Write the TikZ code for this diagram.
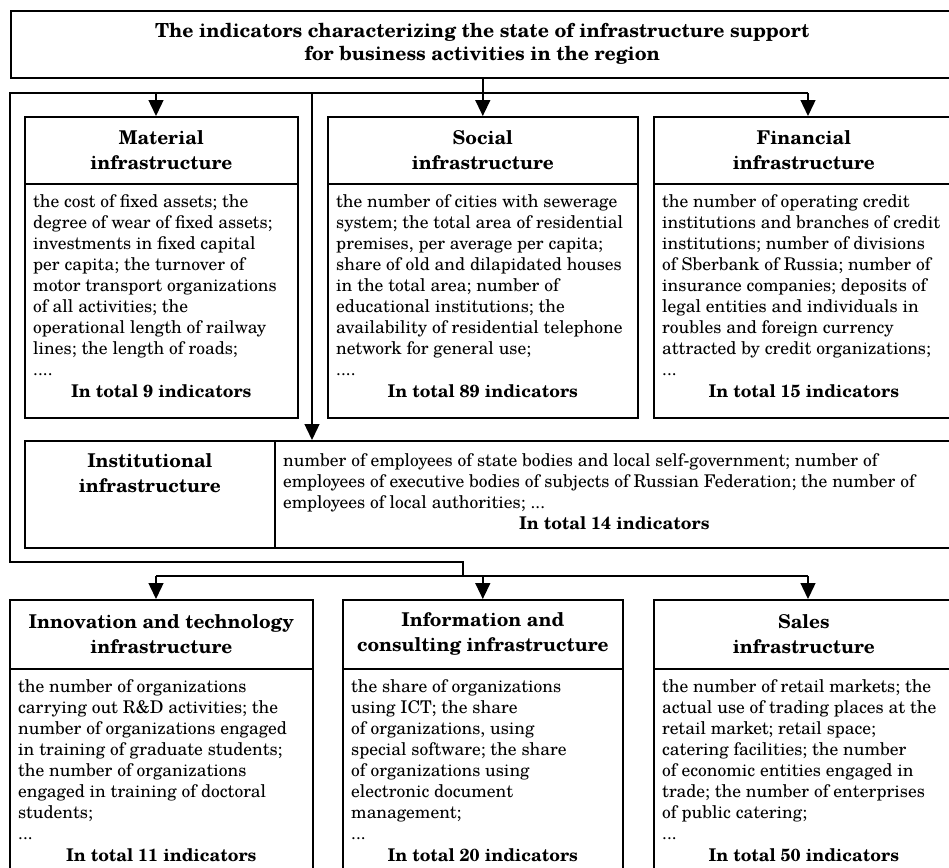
\documentclass[tikz,border=0pt]{standalone}
\usepackage{fontspec}
\setmainfont{TeX Gyre Schola}
\usetikzlibrary{arrows.meta,calc}
\newcommand{\bodyfnt}{\fontsize{17.5}{21}\selectfont}
\newcommand{\headfnt}{\fontsize{19}{25}\selectfont\bfseries}
\newcommand{\titlefnt}{\fontsize{19.4}{23}\selectfont\bfseries}
\tikzset{
 boxr/.style={draw, line width=1.6pt, inner sep=0pt, anchor=north west},
 headbox/.style={boxr, align=center, font=\headfnt},
 bodytxt/.style={anchor=north west, inner sep=0pt, align=left, font=\bodyfnt},
 totaltxt/.style={anchor=base, inner sep=0pt, font=\bodyfnt\bfseries},
 conn/.style={line width=1.4pt},
 arr/.style={conn, -{Triangle[length=16pt,width=15pt]}},
}
\begin{document}
\begin{tikzpicture}[x=1pt,y=-1pt]
\useasboundingbox (0,0) rectangle (949,867);
\clip (0,0) rectangle (949,867);
% title
\node[boxr, minimum width=943, minimum height=67, align=center, font=\titlefnt] (title) at (10,10)
 {The indicators characterizing the state of infrastructure support\\for business activities in the region};
% material
\node[headbox, minimum width=273, minimum height=67] (matH) at (24,116) {Material\\infrastructure};
\node[boxr, minimum width=273, minimum height=234] (matB) at (24,183) {};
\node[bodytxt] (matT) at ($(matB.north west)+(9,9.3)$) {\strut the cost of fixed assets; the\\degree of wear of fixed assets;\\investments in fixed capital\\per capita; the turnover of\\motor transport organizations\\of all activities; the\\operational length of railway\\lines; the length of roads;\\....};
\node[totaltxt] (matS) at ($(matB.north)+(0,214)$) {In total 9 indicators};
% social
\node[headbox, minimum width=310, minimum height=67] (socH) at (327,116) {Social\\infrastructure};
\node[boxr, minimum width=310, minimum height=234] (socB) at (327,183) {};
\node[bodytxt] (socT) at ($(socB.north west)+(9,9.3)$) {\strut the number of cities with sewerage\\system; the total area of residential\\premises, per average per capita;\\share of old and dilapidated houses\\in the total area; number of\\educational institutions; the\\availability of residential telephone\\network for general use;\\....};
\node[totaltxt] (socS) at ($(socB.north)+(0,214)$) {In total 89 indicators};
% financial
\node[headbox, minimum width=300, minimum height=67] (finH) at (653,116) {Financial\\infrastructure};
\node[boxr, minimum width=300, minimum height=234] (finB) at (653,183) {};
\node[bodytxt] (finT) at ($(finB.north west)+(9,9.3)$) {\strut the number of operating credit\\institutions and branches of credit\\institutions; number of divisions\\of Sberbank of Russia; number of\\insurance companies; deposits of\\legal entities and individuals in\\roubles and foreign currency\\attracted by credit organizations;\\...};
\node[totaltxt] (finS) at ($(finB.north)+(0,214)$) {In total 15 indicators};
% institutional
\node[boxr, minimum width=250, minimum height=107] (instH) at (24,440) {};
\node[anchor=north, inner sep=0pt, align=center, font=\headfnt] (instHT) at ($(instH.north)+(0,9.5)$) {\strut Institutional\\infrastructure};
\node[boxr, minimum width=679, minimum height=107] (instB) at (274,440) {};
\node[bodytxt] (instT) at ($(instB.north west)+(9,11.3)$) {\strut number of employees of state bodies and local self-government; number of\\employees of executive bodies of subjects of Russian Federation; the number of\\employees of local authorities; ...};
\node[totaltxt] (instS) at ($(instB.north)+(0,89.5)$) {In total 14 indicators};
% innovation
\node[headbox, minimum width=303, minimum height=69] (innH) at (9,599) {Innovation and technology\\infrastructure};
\node[boxr, minimum width=303, minimum height=240] (innB) at (9,668) {};
\node[bodytxt] (innT) at ($(innB.north west)+(9,9.3)$) {\strut the number of organizations\\carrying out R\&D activities; the\\number of organizations engaged\\in training of graduate students;\\the number of organizations\\engaged in training of doctoral\\students;\\...};
\node[totaltxt] (innS) at ($(innB.north)+(0,193)$) {In total 11 indicators};
% information
\node[headbox, minimum width=280, minimum height=69] (infH) at (342,599) {Information and\\consulting infrastructure};
\node[boxr, minimum width=280, minimum height=240] (infB) at (342,668) {};
\node[bodytxt] (infT) at ($(infB.north west)+(9,9.3)$) {\strut the share of organizations\\using ICT; the share\\of organizations, using\\special software; the share\\of organizations using\\electronic document\\management;\\...};
\node[totaltxt] (infS) at ($(infB.north)+(0,193)$) {In total 20 indicators};
% sales
\node[headbox, minimum width=300, minimum height=69] (salH) at (653,599) {Sales\\infrastructure};
\node[boxr, minimum width=300, minimum height=240] (salB) at (653,668) {};
\node[bodytxt] (salT) at ($(salB.north west)+(9,9.3)$) {\strut the number of retail markets; the\\actual use of trading places at the\\retail market; retail space;\\catering facilities; the number\\of economic entities engaged in\\trade; the number of enterprises\\of public catering;\\...};
\node[totaltxt] (salS) at ($(salB.north)+(0,193)$) {In total 50 indicators};
% connectors
\coordinate (L1) at (10,93);
\coordinate (V2) at (312,93);
\coordinate (L2) at (10,562);
\coordinate (M1) at (463,562);
\coordinate (M2) at (463,576);
\coordinate (XA) at (156,0);
\coordinate (XC) at (808,0);
\draw[conn] (title.south -| socH.north) -- (socH.north |- L1);
\draw[conn, line join=miter] (XC |- L1) -- (L1) -- (L2) -- (M1) -- (M2);
\draw[arr] (XA |- L1) -- (XA |- matH.north);
\draw[arr] (socH.north |- L1) -- (socH.north);
\draw[arr] (XC |- L1) -- (XC |- finH.north);
\draw[arr] (V2) -- (V2 |- instB.north);
\draw[conn] (XA |- M2) -- (XC |- M2);
\draw[arr] (XA |- M2) -- (XA |- innH.north);
\draw[arr] (infH.north |- M2) -- (infH.north);
\draw[arr] (XC |- M2) -- (XC |- salH.north);
\end{tikzpicture}
\end{document}
